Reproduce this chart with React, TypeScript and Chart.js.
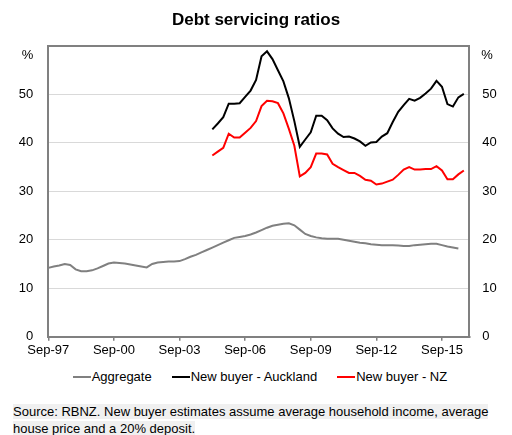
import React, { useEffect, useRef } from 'react';
import { Chart, registerables } from 'chart.js';

Chart.register(...registerables);

// Quarterly categories Sep-97 .. Dec-16
const quarterMonths = ['Sep', 'Dec', 'Mar', 'Jun'];
const quarters: string[] = Array.from({ length: 78 }, (_, i) => {
  const m = quarterMonths[i % 4];
  const y = 97 + Math.floor(i / 4) + (i % 4 >= 2 ? 1 : 0);
  return `${m}-${String(y % 100).padStart(2, '0')}`;
});

const xTickLabels = ['Sep-97', 'Sep-00', 'Sep-03', 'Sep-06', 'Sep-09', 'Sep-12', 'Sep-15'];
const yTicks = [0, 10, 20, 30, 40, 50, 60];

const aggregate = [
  14.2, 14.5, 14.7, 15.0, 14.8, 13.9, 13.5, 13.5, 13.7, 14.1,
  14.6, 15.1, 15.3, 15.2, 15.1, 14.9, 14.7, 14.5, 14.3, 15.0,
  15.3, 15.4, 15.5, 15.5, 15.6, 16.0, 16.5, 16.9, 17.4, 17.9,
  18.4, 18.9, 19.4, 19.9, 20.4, 20.6, 20.8, 21.1, 21.5, 22.0,
  22.5, 22.9, 23.1, 23.3, 23.4, 23.0, 22.1, 21.2, 20.8, 20.5,
  20.3, 20.2, 20.2, 20.2, 20.0, 19.8, 19.6, 19.4, 19.3, 19.1,
  19.0, 18.9, 18.9, 18.9, 18.8, 18.7, 18.7, 18.9, 19.0, 19.1,
  19.2, 19.2, 18.9, 18.6, 18.4, 18.2,
];

const newBuyerStart = 30; // first quarter (Mar-05) of the new buyer series

const aucklandValues = [
  42.8, 44.0, 45.3, 48.1, 48.1, 48.2, 49.5, 50.8, 53.0, 57.9,
  58.9, 57.3, 55.0, 52.7, 49.2, 44.5, 39.2, 40.7, 42.2, 45.6,
  45.6, 44.7, 43.0, 41.9, 41.2, 41.3, 40.9, 40.3, 39.4, 40.1,
  40.2, 41.3, 42.0, 44.3, 46.4, 47.8, 49.1, 48.7, 49.3, 50.2,
  51.2, 52.8, 51.6, 48.0, 47.5, 49.4, 50.1,
];

const nzValues = [
  37.4, 38.2, 39.0, 41.9, 41.1, 41.1, 42.1, 43.1, 44.5, 47.6,
  48.7, 48.6, 48.2, 46.1, 42.9, 39.4, 33.1, 33.8, 35.0, 37.8,
  37.8, 37.6, 35.7, 35.0, 34.4, 33.8, 33.8, 33.2, 32.4, 32.2,
  31.4, 31.6, 32.0, 32.4, 33.4, 34.5, 35.0, 34.5, 34.5, 34.6,
  34.6, 35.2, 34.3, 32.5, 32.5, 33.5, 34.3,
];

const seriesNames = ['Aggregate', 'New buyer - Auckland', 'New buyer - NZ'];
const seriesColors = ['#808080', '#000000', '#ff0000'];

const FONT = "'Liberation Sans', Arial, sans-serif";

const pad = (start: number, vals: number[]) =>
  quarters.map((_, i) => (i >= start && i - start < vals.length ? vals[i - start] : null));

const percentPlugin = {
  id: 'percentLabels',
  afterDraw(chart: any) {
    const { ctx, chartArea } = chart;
    ctx.save();
    ctx.font = `13px ${FONT}`;
    ctx.fillStyle = '#000';
    ctx.textBaseline = 'middle';
    ctx.textAlign = 'right';
    ctx.fillText('%', chartArea.left - 15, chartArea.top + 9);
    ctx.textAlign = 'left';
    ctx.fillText('%', chartArea.right + 12, chartArea.top + 9);
    ctx.restore();
  },
};

export default function App() {
  const ref = useRef<HTMLCanvasElement>(null);

  useEffect(() => {
    if (!ref.current) return;
    const datasets = [
      { label: seriesNames[0], data: pad(0, aggregate), yAxisID: 'y' },
      { label: seriesNames[1], data: pad(newBuyerStart, aucklandValues), yAxisID: 'y' },
      { label: seriesNames[2], data: pad(newBuyerStart, nzValues), yAxisID: 'y' },
    ].map((d, i) => ({
      ...d,
      borderColor: seriesColors[i],
      backgroundColor: seriesColors[i],
      borderWidth: 2,
      pointRadius: 0,
      tension: 0,
      spanGaps: false,
    }));

    const tickFont = { family: FONT, size: 13 };
    const yTickCb = (v: any) => (v === 60 ? '' : String(v));

    const chart = new Chart(ref.current, {
      type: 'line',
      data: { labels: quarters, datasets },
      plugins: [percentPlugin],
      options: {
        animation: false,
        responsive: false,
        layout: { padding: { top: 0, left: 0, right: 0, bottom: 3.7 } },
        plugins: {
          legend: { display: false },
          tooltip: { enabled: false },
          title: {
            display: true,
            text: 'Debt servicing ratios',
            color: '#000',
            font: { family: FONT, size: 17, weight: 'bold' },
            padding: { top: 10, bottom: 15.6 },
          },
        },
        scales: {
          x: {
            type: 'category',
            offset: false,
            grid: {
              drawOnChartArea: false,
              drawTicks: true,
              tickLength: 4,
              color: '#808080',
              lineWidth: 1.5,
            },
            border: { display: true, color: '#808080', width: 2 },
            ticks: {
              autoSkip: false,
              maxRotation: 0,
              minRotation: 0,
              padding: 2,
              color: '#000',
              font: tickFont,
            },
            afterBuildTicks: (s: any) => {
              s.ticks = s.ticks.filter((t: any) => xTickLabels.includes(quarters[t.value]));
            },
          },
          y: {
            position: 'left',
            min: yTicks[0],
            max: yTicks[yTicks.length - 1],
            grid: {
              drawTicks: false,
              color: (c: any) => (c.tick && c.tick.value === 60 ? '#808080' : '#d9d9d9'),
              lineWidth: (c: any) => (c.tick && c.tick.value === 60 ? 2 : 1),
            },
            border: { display: true, color: '#808080', width: 2 },
            ticks: { stepSize: 10, padding: 15, color: '#000', font: tickFont, callback: yTickCb },
            afterBuildTicks: (s: any) => {
              s.ticks = yTicks.map((v) => ({ value: v }));
            },
            afterFit: (s: any) => {
              s.width = 48.3;
            },
          },
          y2: {
            position: 'right',
            min: yTicks[0],
            max: yTicks[yTicks.length - 1],
            grid: { drawOnChartArea: false, drawTicks: false },
            border: { display: true, color: '#808080', width: 2 },
            ticks: { stepSize: 10, padding: 13, color: '#000', font: tickFont, callback: yTickCb },
            afterBuildTicks: (s: any) => {
              s.ticks = yTicks.map((v) => ({ value: v }));
            },
            afterFit: (s: any) => {
              s.width = 42.7;
            },
          },
        },
      } as any,
    });
    return () => chart.destroy();
  }, []);

  return (
    <div
      style={{
        position: 'absolute',
        left: 0,
        top: 0,
        width: 512,
        height: 435,
        background: '#fff',
        fontFamily: FONT,
        overflow: 'hidden',
      }}
    >
      <canvas ref={ref} width={512} height={364} style={{ position: 'absolute', left: 0, top: 0, width: 512, height: 364 }} />
      <div
        style={{
          position: 'absolute',
          left: 72.7,
          top: 368.7,
          display: 'flex',
          alignItems: 'center',
          fontSize: 13,
          lineHeight: '16px',
          color: '#000',
          whiteSpace: 'nowrap',
        }}
      >
        {seriesNames.map((n, i) => (
          <div key={n} style={{ display: 'flex', alignItems: 'center', marginRight: 20 }}>
            <span style={{ display: 'inline-block', width: 18, height: 2, background: seriesColors[i], marginRight: 1 }} />
            <span>{n}</span>
          </div>
        ))}
      </div>
      <div
        style={{
          position: 'absolute',
          left: 13,
          top: 403,
          width: 490,
          fontSize: 13,
          lineHeight: '17px',
          color: '#000',
        }}
      >
        <span style={{ background: '#f0f0f0' }}>
          Source: RBNZ. New buyer estimates assume average household income, average
          <br />
          house price and a 20% deposit.
        </span>
      </div>
    </div>
  );
}
